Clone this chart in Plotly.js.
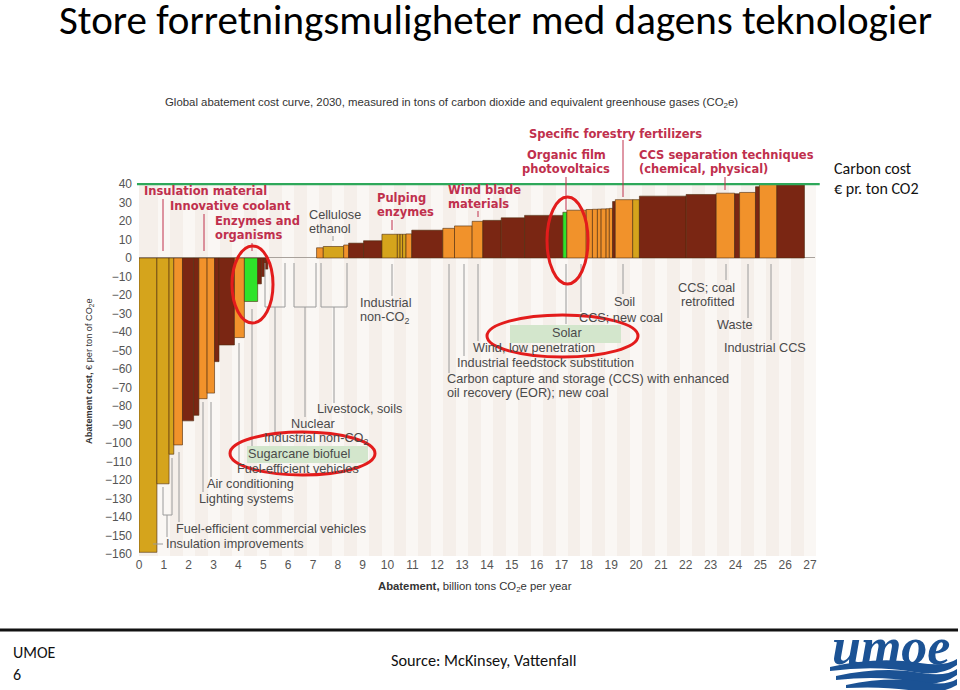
<!DOCTYPE html>
<html>
<head>
<meta charset="utf-8">
<script src="https://cdn.plot.ly/plotly-3.0.1.min.js"></script>
<style>html,body{margin:0;padding:0;background:#fff;}#chart{width:960px;height:690px;}</style>
</head>
<body>
<div id="chart"></div>
<script>
// ---- data ----
// abatement volume of each lever, billion tons CO2e per year (in curve order)
const volumes = [0.72,0.49,0.19,0.35,0.45,0.21,0.33,0.30,0.18,0.62,0.40,0.535,0.15,0.12,0.14,
  1.96,
  0.27,0.82,0.20,0.60,0.74,0.62,0.11,0.10,0.14,0.23,1.25,0.47,0.71,0.43,0.74,0.94,1.54,0.16,0.78,0.25,
  0.20,0.15,0.20,0.13,0.13,0.11,0.70,0.27,1.88,1.21,0.74,0.20,0.64,0.16,0.70,1.11];
// abatement cost, EUR per ton CO2e
const costs = [-159,-122,-106,-101,-88,-85,-76,-73,-56,-47,-43,-23.5,-14,-10,-6,
  0,
  5.5,6.2,7,8,9.3,12.8,12.8,12.8,12.8,13,15,16,17.3,19.8,20.3,21.7,23,24.7,25.8,26.2,
  26.3,26.4,26.5,26.6,26.8,30.5,31.5,31.5,33.4,34.3,35,34.7,35.4,38.5,40,40];
const groups = ['gold','gold','gold','orange','brown','brown','orange','orange','brown','brown','orange','green','brown','brown','brown',
  'none',
  'orange','gold','orange','brown','brown','gold','gold','gold','gold','orange','brown','orange','orange','orange','brown','brown','brown','green','orange','orange',
  'orange','orange','orange','orange','orange','brown','orange','gold','brown','brown','orange','brown','orange','brown','orange','brown'];
const carbonCost = 40;
const xTicks = [0,1,2,3,4,5,6,7,8,9,10,11,12,13,14,15,16,17,18,19,20,21,22,23,24,25,26,27];

// ---- styling ----
const palette = {gold:'#d5a41c', orange:'#f1922b', brown:'#7a2613', green:'#2fe32a', none:'rgba(0,0,0,0)'};
const SANS = "'Liberation Sans',Arial,sans-serif";
const HEAVY = "'DejaVu Sans','Liberation Sans',sans-serif";
const SLIDE = "Carlito,Lato,'Open Sans',sans-serif";
const CRIMSON = '#c0304d';
const GREYTXT = '#4a4a4a';
const LEAD = '#9a9a9a';

// plot-area geometry (pixels) for decorations
const L = 139, T = 183, PW = 676, PH = 373;
const px = p => (p - L) / PW;
const py = p => (T + PH - p) / PH;

// bar geometry from cumulative volumes
let cum = 0; const centers = [];
volumes.forEach(v => { centers.push(cum + v / 2); cum += v; });

const bars = {
  type: 'bar', x: centers, y: costs, width: volumes,
  marker: {color: groups.map(g => palette[g]),
           line: {color: groups.map(g => g === 'none' ? 'rgba(0,0,0,0)' : '#4d2a0c'), width: 0.6}},
  hoverinfo: 'skip', showlegend: false
};

// ---- decorations ----
const shapes = [];
function line(x0, y0, x1, y1, color, w) {
  shapes.push({type: 'line', xref: 'paper', yref: 'paper', x0: px(x0), y0: py(y0), x1: px(x1), y1: py(y1),
    line: {color: color, width: w || 1}});
}
function rect(x0, y0, x1, y1, fill) {
  shapes.push({type: 'rect', xref: 'paper', yref: 'paper', x0: px(x0), y0: py(y0), x1: px(x1), y1: py(y1),
    fillcolor: fill, line: {width: 0}, layer: 'above'});
}
function ellipse(x0, y0, x1, y1) {
  shapes.push({type: 'circle', xref: 'paper', yref: 'paper', x0: px(x0), y0: py(y0), x1: px(x1), y1: py(y1),
    line: {color: '#e31c1c', width: 3}});
}
function pathPx(d, fill) {
  let i = 0;
  const out = d.replace(/-?\d+(\.\d+)?/g, m => { const v = parseFloat(m); const r = (i % 2 === 0) ? px(v) : py(v); i++; return r.toFixed(5); });
  shapes.push({type: 'path', xref: 'paper', yref: 'paper', path: out, fillcolor: fill, line: {width: 0}});
}

// carbon cost line
shapes.push({type: 'line', xref: 'paper', yref: 'y', x0: -0.003, x1: 1.007, y0: carbonCost, y1: carbonCost,
  line: {color: '#2ea85a', width: 2.5}});

// green highlight boxes
rect(510, 325, 621, 343, '#d3e6cc');
rect(247, 446, 368, 463, '#d3e6cc');

// top (crimson) leaders
line(163, 199, 163, 251, CRIMSON); line(204, 214, 204, 251, CRIMSON); line(252, 243, 252, 251, CRIMSON);
line(392, 220, 392, 230, CRIMSON); line(478, 211, 478, 217, CRIMSON); line(566, 177, 566, 210, CRIMSON);
line(623, 140, 623, 197, CRIMSON); line(725, 177, 725, 190, CRIMSON);
line(333, 236, 333, 241, LEAD);

// right-hand lower leaders
[[392,296],[449,373],[464,356],[478,341],[566,324],[581,312],[623,294],[726,280],[748,318],[771,340]]
  .forEach(a => line(a[0], 264, a[0], a[1], LEAD));

// brackets near zero
[[265,285],[294,316],[321,347]].forEach(b => {
  line(b[0], 263, b[0], 307, LEAD); line(b[1], 263, b[1], 307, LEAD); line(b[0], 307, b[1], 307, LEAD);
});
line(275, 307, 275, 432, LEAD); line(305, 307, 305, 417, LEAD); line(334, 307, 334, 403, LEAD);
// left-hand lower leaders
line(252, 309, 252, 446, LEAD); line(239, 343, 239, 462, LEAD);
line(211, 402, 211, 477, LEAD); line(203, 402, 203, 492, LEAD);
line(179, 452, 179, 522, LEAD); line(172, 458, 172, 487, LEAD);
line(163, 487, 163, 515, LEAD); line(172, 487, 172, 515, LEAD); line(163, 515, 172, 515, LEAD);
line(167, 515, 167, 537, LEAD); line(153, 544, 163, 544, LEAD);

// red hand-drawn ellipses
ellipse(232, 246, 273, 323);
ellipse(230, 432, 375, 475);
ellipse(547, 197, 588, 284);
ellipse(487, 315, 638, 357);

// footer rule
shapes.push({type: 'line', xref: 'paper', yref: 'paper', x0: px(0), x1: px(958), y0: py(630), y1: py(630),
  line: {color: '#111', width: 3}});

// logo waves
const BLUE = '#1b5294';
pathPx('M 830 667 Q 878 656 920 663 Q 945 667 957 659 L 957 665 Q 940 677 914 672 Q 875 665 830 671 Z', BLUE);
pathPx('M 836 676 Q 884 666 922 673 Q 946 677 957 669 L 957 675 Q 940 687 915 682 Q 880 675 836 680 Z', BLUE);
pathPx('M 846 685 Q 890 676 925 682 Q 946 686 957 679 L 957 685 Q 940 695 915 691 Q 885 686 846 688 Z', BLUE);

// ---- text ----
const ann = [];
function T_(text, x, y, o) {
  o = o || {};
  ann.push({text: text, xref: 'paper', yref: 'paper', x: px(x), y: py(y), xanchor: o.xa || 'left', yanchor: 'middle',
    showarrow: false, textangle: o.angle || 0,
    font: {family: o.family || SANS, size: o.size || 12.7, color: o.color || GREYTXT}, align: o.align || 'left'});
}
const red = {family: HEAVY, size: 11.5, color: CRIMSON};
const b = s => '<b>' + s + '</b>';

T_('Global abatement cost curve, 2030, measured in tons of carbon dioxide and equivalent greenhouse gases (CO<sub>2</sub>e)', 163, 103, {size: 11.4, color: '#333'});

T_(b('Insulation material'), 142, 191, red);
T_(b('Innovative coolant'), 168, 206, red);
T_(b('Enzymes and'), 213, 221, red);
T_(b('organisms'), 213, 235, red);
T_('Cellulose', 307, 215);
T_('ethanol', 307, 229);
T_(b('Pulping'), 375, 198, red);
T_(b('enzymes'), 375, 212, red);
T_(b('Wind blade'), 446, 190, red);
T_(b('materials'), 446, 204, red);
T_(b('Specific forestry fertilizers'), 527, 134, red);
T_(b('Organic film'), 566, 155, Object.assign({xa: 'center'}, red));
T_(b('photovoltaics'), 566, 169, Object.assign({xa: 'center'}, red));
T_(b('CCS separation techniques'), 637, 155, red);
T_(b('(chemical, physical)'), 637, 169, red);

T_('Industrial', 358, 303);
T_('non-CO<sub>2</sub>', 358, 318);
T_('Soil', 612, 302);
T_('CCS; new coal', 577, 318);
T_('CCS; coal', 737, 288, {xa: 'right'});
T_('retrofitted', 737, 302, {xa: 'right'});
T_('Waste', 715, 325);
T_('Industrial CCS', 722, 348);
T_('Solar', 567, 333, {xa: 'center'});
T_('Wind, low penetration', 471, 348);
T_('Industrial feedstock substitution', 455, 363);
T_('Carbon capture and storage (CCS) with enhanced', 445, 379);
T_('oil recovery (EOR); new coal', 445, 393);
T_('Livestock, soils', 315, 409);
T_('Nuclear', 289, 424);
T_('Industrial non-CO<sub>2</sub>', 262, 439);
T_('Sugarcane biofuel', 246, 454);
T_('Fuel-efficient vehicles', 235, 469);
T_('Air conditioning', 205, 484);
T_('Lighting systems', 197, 499);
T_('Fuel-efficient commercial vehicles', 174, 529);
T_('Insulation improvements', 164, 544);

// axis titles
T_('<b>Abatement cost,</b> € per ton of CO<sub>2</sub>e', 89, 371, {xa: 'center', angle: -90, size: 9.2, color: '#333'});
T_('<b>Abatement,</b> billion tons CO<sub>2</sub>e per year', 475, 587, {xa: 'center', size: 11.3, color: '#333'});

// slide texts
T_('Carbon cost', 832, 168, {family: SLIDE, size: 16, color: '#111'});
T_('€ pr. ton CO2', 832, 188, {family: SLIDE, size: 16, color: '#111'});
T_('UMOE', 11, 652, {family: SLIDE, size: 16, color: '#111'});
T_('6', 11, 674, {family: SLIDE, size: 16, color: '#111'});
T_('Source: McKinsey, Vattenfall', 389, 660, {family: SLIDE, size: 16.3, color: '#111'});
T_('<b><i>umoe</i></b>', 891, 646, {xa: 'center', family: "'Liberation Serif','DejaVu Serif',serif", size: 52, color: BLUE});

const layout = {
  width: 960, height: 690,
  margin: {l: L, r: 960 - L - PW, t: T, b: 690 - T - PH, pad: 0},
  paper_bgcolor: '#ffffff', plot_bgcolor: '#f5efea',
  title: {text: 'Store forretningsmuligheter med dagens teknologier', xref: 'container', yref: 'container',
    x: 59 / 960, xanchor: 'left', y: 1 - 20 / 690, yanchor: 'middle',
    font: {family: SLIDE, size: 41, color: '#000'}},
  xaxis: {range: [0, 27.2], tickvals: xTicks, ticktext: xTicks.map(String), showgrid: true,
    gridcolor: '#faf7f4', gridwidth: 12, zeroline: false, showline: false, ticks: '',
    tickfont: {family: SANS, size: 12, color: '#555'}, fixedrange: true},
  yaxis: {range: [-161, 40.5], tick0: 0, dtick: 10, showgrid: false, zeroline: true,
    zerolinecolor: '#a9a29c', zerolinewidth: 1, showline: false, ticks: '',
    ticklabelstandoff: 6,
    tickfont: {family: SANS, size: 12, color: '#555'}, fixedrange: true},
  bargap: 0,
  shapes: shapes,
  annotations: ann,
  showlegend: false
};

Plotly.newPlot('chart', [bars], layout, {displayModeBar: false, staticPlot: true});
</script>
</body>
</html>
